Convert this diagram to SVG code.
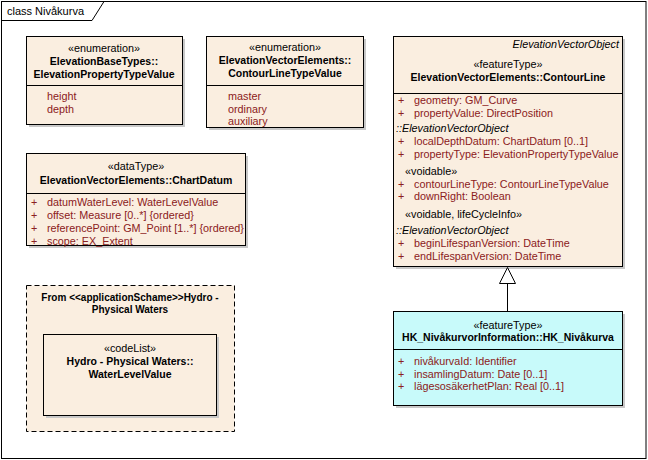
<svg xmlns="http://www.w3.org/2000/svg" width="648" height="460" viewBox="0 0 648 460">
<defs>
<style>
text{font-family:"Liberation Sans",Arial,sans-serif;font-size:10.8px;fill:#000}
.c{text-anchor:middle}
.b{font-weight:bold;font-size:10.5px}
.i{font-style:italic}
.a{fill:#8B2020}
.pk{font-size:10px}
.box{fill:#FAEEE0;stroke:#000;stroke-width:1}
.cyan{fill:#C8FAFA;stroke:#000;stroke-width:1}
.sh{fill:#C8C8C8}
.ln{stroke:#000;stroke-width:1;fill:none}
</style>
</defs>
<rect x="0" y="0" width="648" height="460" fill="#fff"/>
<rect x="1.5" y="1.5" width="644.5" height="457" fill="none" stroke="#000"/>
<path d="M1.5 20.5 H92 L104 1.5" class="ln"/>
<text x="7" y="15" style="font-size:11px">class Nivåkurva</text>

<g id="ElevationPropertyTypeValue">
<rect x="29" y="39" width="156" height="88" class="sh"/>
<rect x="26.5" y="36.5" width="156" height="88" class="box"/>
<line x1="26.5" y1="85.5" x2="182.5" y2="85.5" class="ln"/>
<text x="104" y="52" class="c">«enumeration»</text>
<text x="104" y="65" class="c b">ElevationBaseTypes::</text>
<text x="104" y="78" class="c b">ElevationPropertyTypeValue</text>
<text x="47" y="100" class="a">height</text>
<text x="47" y="113" class="a">depth</text>
</g>

<g id="ContourLineTypeValue">
<rect x="209" y="39" width="157" height="91" class="sh"/>
<rect x="206.5" y="36.5" width="157" height="91" class="box"/>
<line x1="206.5" y1="85.5" x2="363.5" y2="85.5" class="ln"/>
<text x="285" y="51" class="c">«enumeration»</text>
<text x="285" y="64" class="c b">ElevationVectorElements::</text>
<text x="285" y="77" class="c b">ContourLineTypeValue</text>
<text x="228" y="100" class="a">master</text>
<text x="228" y="113" class="a">ordinary</text>
<text x="228" y="125" class="a">auxiliary</text>
</g>

<g id="ContourLine">
<rect x="396" y="39" width="229" height="230" class="sh"/>
<rect x="393.5" y="36.5" width="229" height="230" class="box"/>
<line x1="393.5" y1="93.5" x2="622.5" y2="93.5" class="ln"/>
<text x="619" y="48" class="i" text-anchor="end">ElevationVectorObject</text>
<text x="508" y="68" class="c">«featureType»</text>
<text x="508" y="81" class="c b">ElevationVectorElements::ContourLine</text>
<text x="398" y="104" class="a">+</text><text x="414" y="104" class="a">geometry: GM_Curve</text>
<text x="398" y="117" class="a">+</text><text x="414" y="117" class="a">propertyValue: DirectPosition</text>
<text x="396" y="132" class="i">::ElevationVectorObject</text>
<text x="398" y="145" class="a">+</text><text x="414" y="145" class="a">localDepthDatum: ChartDatum [0..1]</text>
<text x="398" y="158" class="a">+</text><text x="414" y="158" class="a">propertyType: ElevationPropertyTypeValue</text>
<text x="405" y="175">«voidable»</text>
<text x="398" y="188" class="a">+</text><text x="414" y="188" class="a">contourLineType: ContourLineTypeValue</text>
<text x="398" y="200" class="a">+</text><text x="414" y="200" class="a">downRight: Boolean</text>
<text x="405" y="218">«voidable, lifeCycleInfo»</text>
<text x="396" y="234" class="i">::ElevationVectorObject</text>
<text x="398" y="247" class="a">+</text><text x="414" y="247" class="a">beginLifespanVersion: DateTime</text>
<text x="398" y="260" class="a">+</text><text x="414" y="260" class="a">endLifespanVersion: DateTime</text>
</g>

<g id="ChartDatum">
<rect x="29" y="156" width="219" height="92" class="sh"/>
<rect x="26.5" y="153.5" width="219" height="92" class="box"/>
<line x1="26.5" y1="193.5" x2="245.5" y2="193.5" class="ln"/>
<text x="136" y="170" class="c">«dataType»</text>
<text x="136" y="184" class="c b">ElevationVectorElements::ChartDatum</text>
<text x="31" y="206" class="a">+</text><text x="47" y="206" class="a">datumWaterLevel: WaterLevelValue</text>
<text x="31" y="219" class="a">+</text><text x="47" y="219" class="a">offset: Measure [0..*] {ordered}</text>
<text x="31" y="232" class="a">+</text><text x="47" y="232" class="a">referencePoint: GM_Point [1..*] {ordered}</text>
<text x="31" y="245" class="a">+</text><text x="47" y="245" class="a">scope: EX_Extent</text>
</g>

<g id="HydroPackage">
<rect x="26.5" y="285.5" width="208" height="146" fill="#FAEEE0" stroke="#000" stroke-dasharray="5,3"/>
<text x="130" y="301" class="c b pk">From &lt;&lt;applicationSchame&gt;&gt;Hydro -</text>
<text x="130" y="313" class="c b pk">Physical Waters</text>
</g>

<g id="WaterLevelValue">
<rect x="46" y="337" width="173" height="81" class="sh"/>
<rect x="43.5" y="334.5" width="173" height="81" class="box"/>
<text x="130" y="352" class="c">«codeList»</text>
<text x="130" y="365" class="c b">Hydro - Physical Waters::</text>
<text x="130" y="378" class="c b">WaterLevelValue</text>
</g>

<g id="HK_Nivakurva">
<rect x="396" y="314" width="229" height="94" class="sh"/>
<rect x="393.5" y="311.5" width="229" height="94" class="cyan"/>
<line x1="393.5" y1="349.5" x2="622.5" y2="349.5" class="ln"/>
<text x="508" y="329" class="c">«featureType»</text>
<text x="508" y="341" class="c b">HK_NivåkurvorInformation::HK_Nivåkurva</text>
<text x="398" y="365" class="a">+</text><text x="414" y="365" class="a">nivåkurvaId: Identifier</text>
<text x="398" y="378" class="a">+</text><text x="414" y="378" class="a">insamlingDatum: Date [0..1]</text>
<text x="398" y="390" class="a">+</text><text x="414" y="390" class="a">lägesosäkerhetPlan: Real [0..1]</text>
</g>

<g id="connectors">
<line x1="507.5" y1="283" x2="507.5" y2="311" class="ln"/>
<path d="M507.5 267.5 L499.5 283.5 L515.5 283.5 Z" fill="#fff" stroke="#000"/>
</g>
</svg>
